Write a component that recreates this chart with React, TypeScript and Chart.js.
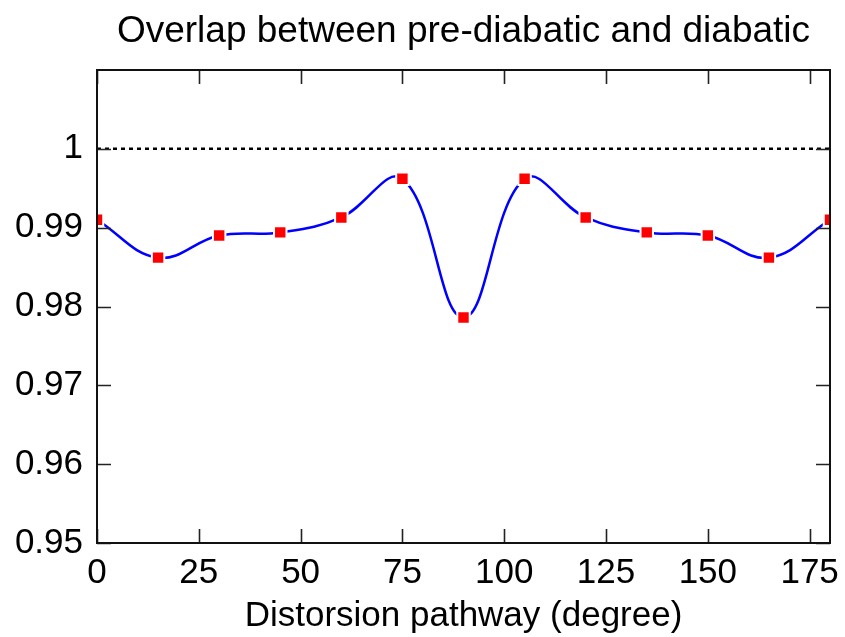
import React, { useEffect, useRef } from "react";
import { Chart, registerables } from "chart.js";

Chart.register(...registerables);

const angles = [0, 15, 30, 45, 60, 75, 90, 105, 120, 135, 150, 165, 180];
const overlap = [0.991, 0.9862, 0.989, 0.9894, 0.9913, 0.9962, 0.9786, 0.9962, 0.9913, 0.9894, 0.989, 0.9862, 0.991];
const referenceLevel = 1;
const xTickValues = [0, 25, 50, 75, 100, 125, 150, 175];
const yTickValues = [0.95, 0.96, 0.97, 0.98, 0.99, 1.0];
const titleText = "Overlap between pre-diabatic and diabatic";
const xAxisTitle = "Distorsion pathway (degree)";

const FONT = "'Liberation Sans', Arial, sans-serif";

const framePlugin = {
  id: "frameTicks",
  afterDatasetsDraw(chart: any) {
    const { ctx, chartArea } = chart;
    const xs = chart.scales.x;
    const ys = chart.scales.y;
    const tl = 14;
    ctx.save();
    ctx.strokeStyle = "#222";
    ctx.lineWidth = 1.6;
    ctx.beginPath();
    for (const v of xTickValues) {
      const px = Math.round(xs.getPixelForValue(v)) + 0.5;
      ctx.moveTo(px, chartArea.bottom);
      ctx.lineTo(px, chartArea.bottom - tl);
      ctx.moveTo(px, chartArea.top);
      ctx.lineTo(px, chartArea.top + tl);
    }
    for (const v of yTickValues) {
      const py = Math.round(ys.getPixelForValue(v)) + 0.5;
      ctx.moveTo(chartArea.left, py);
      ctx.lineTo(chartArea.left + tl, py);
      ctx.moveTo(chartArea.right, py);
      ctx.lineTo(chartArea.right - tl, py);
    }
    ctx.stroke();
    ctx.lineWidth = 2;
    ctx.strokeStyle = "#111";
    ctx.strokeRect(chartArea.left, chartArea.top, chartArea.right - chartArea.left, chartArea.bottom - chartArea.top);
    ctx.restore();
  },
};

export default function App() {
  const canvasRef = useRef<HTMLCanvasElement>(null);

  useEffect(() => {
    document.body.style.margin = "0";
    const canvas = canvasRef.current;
    if (!canvas) return;
    const chart = new Chart(canvas, {
      type: "line",
      data: {
        datasets: [
          {
            label: "ref",
            data: [
              { x: 0, y: referenceLevel },
              { x: 180, y: referenceLevel },
            ],
            borderColor: "#000",
            borderWidth: 2.5,
            borderDash: [4, 4],
            pointRadius: 0,
            tension: 0,
            clip: 0,
          },
          {
            label: "overlap",
            data: angles.map((a, i) => ({ x: a, y: overlap[i] })),
            borderColor: "#0000ff",
            borderWidth: 2.5,
            tension: 0.4,
            pointStyle: "rect",
            pointRadius: 8.8,
            pointBackgroundColor: "#ff0000",
            pointBorderColor: "#ffffff",
            pointBorderWidth: 2,
            clip: 0,
          },
        ],
      },
      options: {
        responsive: false,
        animation: false,
        layout: { padding: { left: 0, right: 15, top: 0, bottom: 0 } },
        plugins: {
          legend: { display: false },
          tooltip: { enabled: false },
          title: {
            display: true,
            fullSize: false,
            text: titleText,
            color: "#000",
            font: { family: FONT, size: 37, weight: "normal", lineHeight: 1.2 },
            padding: { top: 10, bottom: 15.6 },
          },
        },
        scales: {
          x: {
            type: "linear",
            min: 0,
            max: 180,
            afterBuildTicks: (axis: any) => {
              axis.ticks = xTickValues.map((v) => ({ value: v }));
            },
            afterFit: (axis: any) => {
              axis.height = 94;
              axis.paddingRight = 0;
              axis.paddingLeft = 0;
            },
            grid: { display: false, drawTicks: false, tickLength: 0 },
            border: { display: false },
            ticks: {
              color: "#000",
              font: { family: FONT, size: 35, lineHeight: 1.2 },
              padding: 9,
              maxRotation: 0,
              autoSkip: false,
              callback: (v: any) => String(v),
            },
            title: {
              display: true,
              text: xAxisTitle,
              color: "#000",
              font: { family: FONT, size: 35, lineHeight: 1.2 },
              padding: { top: 0, bottom: 0 },
            },
          },
          y: {
            type: "linear",
            min: 0.95,
            max: 1.01,
            afterBuildTicks: (axis: any) => {
              axis.ticks = yTickValues.map((v) => ({ value: v }));
            },
            afterFit: (axis: any) => {
              axis.width = 97;
            },
            grid: { display: false, drawTicks: false, tickLength: 0 },
            border: { display: false },
            ticks: {
              color: "#000",
              font: { family: FONT, size: 35 },
              padding: 14,
              autoSkip: false,
              callback: (v: any) => String(Number(Number(v).toFixed(2))),
            },
          },
        },
      },
      plugins: [framePlugin],
    });
    return () => chart.destroy();
  }, []);

  return (
    <div style={{ width: 845, height: 637 }}>
      <canvas ref={canvasRef} width={845} height={637} style={{ display: "block" }} />
    </div>
  );
}
